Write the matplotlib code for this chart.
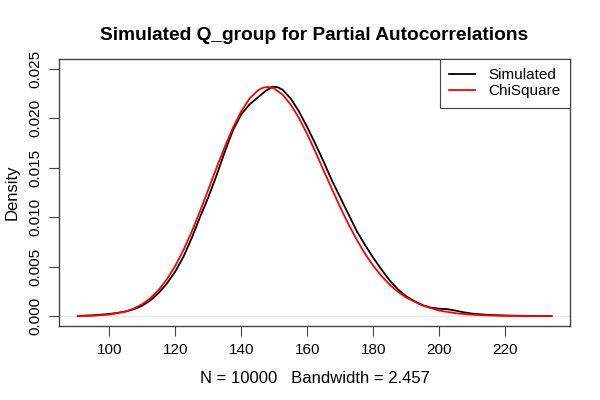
import matplotlib.pyplot as plt

# density estimate of the simulated statistic
sim_x = [90.5, 95, 100, 102.5, 105, 107.5, 110, 112.5, 115, 117.5, 120, 122.5,
         125, 127.5, 130, 132.5, 135, 137.5, 140, 142.5, 145, 147.5, 149.5, 151,
         152.5, 155, 157.5, 160, 162.5, 165, 167.5, 170, 172.5, 175, 177.5, 180,
         182.5, 185, 187.5, 190, 192.5, 195, 197.5, 200, 202.5, 205, 207.5, 210,
         215, 220, 225, 230, 234]
sim_y = [0.00002, 0.00008, 0.00022, 0.00032, 0.00047, 0.00070, 0.00105, 0.00160,
         0.00235, 0.00330, 0.00450, 0.00600, 0.00790, 0.01000, 0.01200, 0.01420,
         0.01660, 0.01880, 0.02040, 0.02140, 0.02210, 0.02280, 0.02320, 0.02315,
         0.02290, 0.02200, 0.02070, 0.01910, 0.01740, 0.01560, 0.01370, 0.01200,
         0.01030, 0.00860, 0.00720, 0.00590, 0.00470, 0.00360, 0.00270, 0.00200,
         0.00150, 0.00110, 0.00085, 0.00075, 0.00070, 0.00055, 0.00038, 0.00025,
         0.00012, 0.00006, 0.00003, 0.00001, 0.0]

# chi-square reference curve
chi_x = [90.5, 95, 100, 105, 107.5, 110, 112.5, 115, 117.5, 120, 122.5, 125,
         127.5, 130, 132.5, 135, 137.5, 140, 142.5, 145, 146, 147, 148, 149, 150,
         152.5, 155, 157.5, 160, 162.5, 165, 167.5, 170, 172.5, 175, 177.5, 180,
         182.5, 185, 187.5, 190, 195, 200, 205, 210, 215, 220, 225, 230, 234]
chi_y = [0.0000094, 0.0000423, 0.000154, 0.000469, 0.000764, 0.001204, 0.001819,
         0.00265, 0.003724, 0.00507, 0.006678, 0.00853, 0.01059, 0.01277, 0.01497,
         0.01710, 0.01905, 0.02071, 0.02199, 0.02281, 0.02301, 0.02313, 0.02317,
         0.02313, 0.02302, 0.02241, 0.02139, 0.02002, 0.01840, 0.01660, 0.01471,
         0.01284, 0.01100, 0.00929, 0.00772, 0.00631, 0.00509, 0.00405, 0.00317,
         0.002456, 0.001875, 0.001053, 0.000562, 0.000287, 0.000140, 0.0000656,
         0.0000295, 0.0000128, 0.0000053, 0.0000025]

x_ticks = [100, 120, 140, 160, 180, 200, 220]
y_ticks = [0.000, 0.005, 0.010, 0.015, 0.020, 0.025]

plt.rcParams['font.family'] = ['Liberation Sans', 'DejaVu Sans']

fig = plt.figure(figsize=(6, 4), dpi=100)
ax = fig.add_axes([59 / 600, 74 / 400, 511 / 600, 267 / 400])

ax.axhline(0, color='#dddddd', lw=0.5, zorder=1)
ax.plot(sim_x, sim_y, color='black', lw=1.3, label='Simulated', zorder=2)
ax.plot(chi_x, chi_y, color='red', lw=1.3, label='ChiSquare', zorder=3)

ax.set_xlim(84.8, 239.6)
ax.set_ylim(-0.001, 0.026)
ax.set_xticks(x_ticks)
ax.set_xticklabels([str(t) for t in x_ticks])
ax.set_yticks(y_ticks)
ax.set_yticklabels(['%.3f' % t for t in y_ticks], rotation=90, va='center')
ax.tick_params(direction='out', length=7, labelsize=11, color='#444444', pad=5)

for s in ax.spines.values():
    s.set_color('#444444')
    s.set_linewidth(1)

ax.set_title('Simulated Q_group for Partial Autocorrelations', fontsize=13.8,
             fontweight='bold', pad=14)
ax.set_xlabel('N = 10000   Bandwidth = 2.457', fontsize=12, labelpad=10)
ax.set_ylabel('Density', fontsize=12, labelpad=6)

leg = ax.legend(loc='upper right', borderaxespad=0, fancybox=False,
                framealpha=1, edgecolor='#444444', fontsize=11,
                handlelength=1.7, borderpad=0.6, labelspacing=0.15,
                handletextpad=0.9)
leg.get_frame().set_linewidth(0.8)

fig.savefig('out.png', dpi=100)
plt.close(fig)
